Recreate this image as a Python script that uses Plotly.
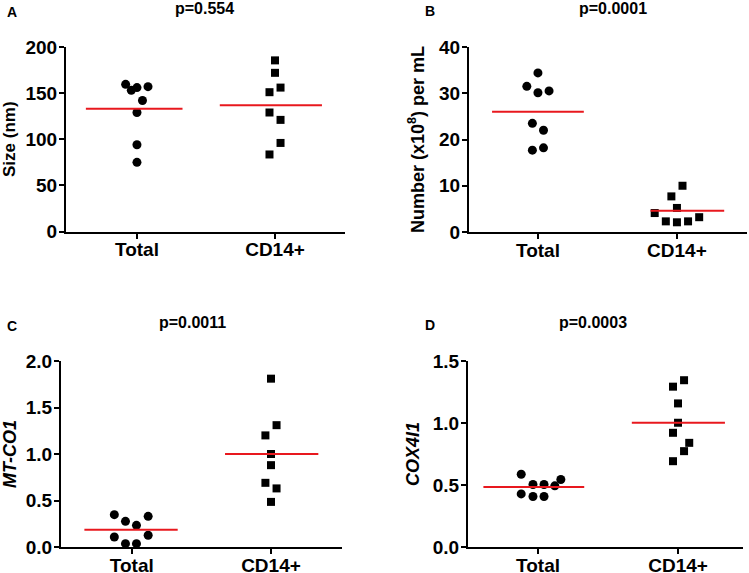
import numpy as np
import plotly.graph_objects as go

W, H = 749, 573
groups = ["Total", "CD14+"]

# ---- Data ----
a_total = [159.5, 153, 156, 157, 142, 129, 94, 75]
a_cd14 = [185.5, 172, 156, 151, 129, 121, 96, 83.5]
b_total = [34.4, 31.5, 30.1, 30.5, 23.5, 22.0, 17.7, 18.2]
b_cd14 = [10.0, 7.7, 5.2, 4.1, 2.3, 2.1, 2.3, 3.2]
c_total = [0.348, 0.276, 0.233, 0.330, 0.108, 0.126, 0.036, 0.036]
c_cd14 = [1.81, 1.31, 1.20, 1.00, 0.88, 0.69, 0.63, 0.485]
d_total = [0.587, 0.504, 0.504, 0.544, 0.493, 0.428, 0.407, 0.407]
d_cd14 = [1.345, 1.293, 1.158, 1.002, 0.921, 0.840, 0.773, 0.692]

# horizontal jitter of the dots (category units)
a_total_jit = [-0.082, -0.041, 0.0, 0.08, 0.04, 0.0, 0.0, 0.0]
a_cd14_jit = [0.0, 0.0, 0.04, -0.04, -0.04, 0.04, 0.04, -0.04]
b_total_jit = [0.0, -0.08, 0.0, 0.08, -0.04, 0.04, -0.04, 0.04]
b_cd14_jit = [0.04, -0.04, 0.0, -0.16, -0.08, 0.0, 0.08, 0.16]
c_total_jit = [-0.125, -0.045, 0.034, 0.118, -0.125, 0.118, -0.045, 0.034]
c_cd14_jit = [0.0, 0.04, -0.04, 0.0, 0.0, -0.04, 0.04, 0.0]
d_total_jit = [-0.12, -0.036, 0.043, 0.163, 0.12, -0.12, -0.036, 0.043]
d_cd14_jit = [0.043, -0.036, 0.0, 0.0, -0.036, 0.08, 0.043, -0.036]

p_values = ["p=0.554", "p=0.0001", "p=0.0011", "p=0.0003"]
panel_letters = ["A", "B", "C", "D"]
y_titles = ["Size (nm)", "Number (x10<sup>8</sup>) per mL",
            "<i>MT-CO1</i>", "<i>COX4I1</i>"]
y_ticks = [[0, 50, 100, 150, 200], [0, 10, 20, 30, 40],
           [0, 0.5, 1.0, 1.5, 2.0], [0, 0.5, 1.0, 1.5]]
y_ticktext = [["0", "50", "100", "150", "200"], ["0", "10", "20", "30", "40"],
              ["0.0", "0.5", "1.0", "1.5", "2.0"], ["0.0", "0.5", "1.0", "1.5"]]

# layout in window pixels
panels = [
    dict(vals=(a_total, a_cd14), jit=(a_total_jit, a_cd14_jit),
         mean_ext=((-0.37, 0.33), (-0.40, 0.34)),
         xdom=(66, 345), ydom=(47, 231.5), xr=(-0.514, 1.507), yr=(0, 200),
         letter=(12, 12), p=(204, 9), standoff=13, tsize=17),
    dict(vals=(b_total, b_cd14), jit=(b_total_jit, b_cd14_jit),
         mean_ext=((-0.33, 0.33), (-0.19, 0.34)),
         xdom=(469, 747), ydom=(47, 232), xr=(-0.496, 1.504), yr=(0, 40),
         letter=(430, 11), p=(613, 9), standoff=10, tsize=18),
    dict(vals=(c_total, c_cd14), jit=(c_total_jit, c_cd14_jit),
         mean_ext=((-0.34, 0.33), (-0.33, 0.34)),
         xdom=(61, 342), ydom=(361, 547), xr=(-0.508, 1.51), yr=(0, 2.0),
         letter=(12, 326), p=(192, 322), standoff=8, tsize=18),
    dict(vals=(d_total, d_cd14), jit=(d_total_jit, d_cd14_jit),
         mean_ext=((-0.39, 0.33), (-0.33, 0.335)),
         xdom=(468, 743), ydom=(361, 547), xr=(-0.5, 1.464), yr=(0, 1.5),
         letter=(430, 325), p=(593, 322), standoff=8, tsize=18),
]

FONT = "Liberation Sans, Arial, sans-serif"
fig = go.Figure()
annotations = []


def fx(px):
    return px / W


def fy(py):
    return 1 - py / H


for i, pn in enumerate(panels):
    k = "" if i == 0 else str(i + 1)
    xa, ya = "x" + k, "y" + k
    for g, (vals, jit) in enumerate(zip(pn["vals"], pn["jit"])):
        xs = [g + j for j in jit]
        fig.add_trace(go.Scatter(
            x=xs, y=vals, mode="markers", xaxis=xa, yaxis=ya, showlegend=False,
            marker=dict(symbol="circle" if g == 0 else "square",
                        size=9 if g == 0 else 8, color="black",
                        line=dict(width=0)),
            cliponaxis=False))
        m = float(np.mean(vals))
        lo, hi = pn["mean_ext"][g]
        fig.add_trace(go.Scatter(
            x=[g + lo, g + hi], y=[m, m], mode="lines", xaxis=xa, yaxis=ya,
            showlegend=False, line=dict(color="#e8181e", width=2)))

    x0, x1 = pn["xdom"]
    y0, y1 = pn["ydom"]
    fig.update_layout(**{
        "xaxis" + k: dict(domain=[fx(x0), min(fx(x1), 1.0)], range=list(pn["xr"]),
                          anchor=ya, tickvals=[0, 1], ticktext=groups,
                          automargin=False, ticklabelstandoff=-5,
                          showline=True, linecolor="black", linewidth=2,
                          ticks="outside", ticklen=5, tickwidth=2,
                          tickcolor="black", showgrid=False, zeroline=False,
                          tickfont=dict(family=FONT, size=19, color="black",
                                        weight="bold")),
        "yaxis" + k: dict(domain=[fy(y1), fy(y0)], range=list(pn["yr"]),
                          anchor=xa, tickvals=y_ticks[i], ticktext=y_ticktext[i],
                          automargin=False, ticklabelstandoff=-2,
                          showline=True, linecolor="black", linewidth=2,
                          ticks="outside", ticklen=5, tickwidth=2,
                          tickcolor="black", showgrid=False, zeroline=False,
                          tickfont=dict(family=FONT, size=19, color="black",
                                        weight="bold"),
                          title=dict(text="<b>" + y_titles[i] + "</b>",
                                     standoff=pn["standoff"],
                                     font=dict(family=FONT, size=pn["tsize"],
                                               color="black"))),
    })
    lx, ly = pn["letter"]
    annotations.append(dict(text="<b>" + panel_letters[i] + "</b>",
                            x=fx(lx), y=fy(ly), xref="paper", yref="paper",
                            showarrow=False, xanchor="center", yanchor="middle",
                            font=dict(family=FONT, size=14, color="black")))
    px, py = pn["p"]
    annotations.append(dict(text="<b>" + p_values[i] + "</b>",
                            x=fx(px), y=fy(py), xref="paper", yref="paper",
                            showarrow=False, xanchor="center", yanchor="middle",
                            font=dict(family=FONT, size=16, color="black")))

fig.update_layout(width=W, height=H, margin=dict(l=0, r=0, t=0, b=0),
                  paper_bgcolor="white", plot_bgcolor="white",
                  annotations=annotations, font=dict(family=FONT))
# remove the default page margin so the figure fills the window exactly
fig.write_html("out.html",
               config={"displayModeBar": False},
               post_script="document.body.style.margin='0';"
                           "document.body.style.overflow='hidden';")
